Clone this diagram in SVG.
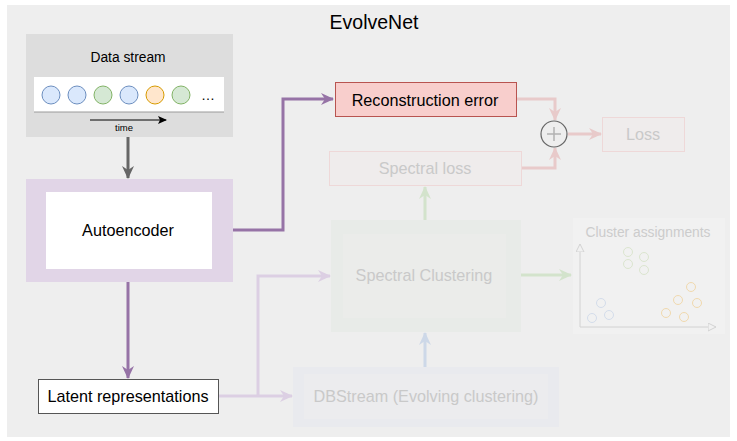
<svg xmlns="http://www.w3.org/2000/svg" width="737" height="441" viewBox="0 0 737 441">
  <defs>
    <style>
      .t { font-family: "Liberation Sans", Arial, Helvetica, sans-serif; text-anchor: middle; dominant-baseline: central; }
      .dark { fill: #000000; }
      .faint { fill: #c9c9c9; }
      .link { fill: none; stroke-width: 3; }
    </style>
    <marker id="ahGray" markerUnits="userSpaceOnUse" markerWidth="14" markerHeight="14" refX="12" refY="7" orient="auto">
      <path d="M0,1 L13,7 L0,13 L4,7 z" fill="#666666"/>
    </marker>
    <marker id="ahPurple" markerUnits="userSpaceOnUse" markerWidth="14" markerHeight="14" refX="12" refY="7" orient="auto">
      <path d="M0,1 L13,7 L0,13 L4,7 z" fill="#9673a6"/>
    </marker>
    <marker id="ahPurpleFaint" markerUnits="userSpaceOnUse" markerWidth="14" markerHeight="14" refX="12" refY="7" orient="auto">
      <path d="M0,1 L13,7 L0,13 L4,7 z" fill="#dccfe3"/>
    </marker>
    <marker id="ahRedFaint" markerUnits="userSpaceOnUse" markerWidth="14" markerHeight="14" refX="12" refY="7" orient="auto">
      <path d="M0,1 L13,7 L0,13 L4,7 z" fill="#e8caca"/>
    </marker>
    <marker id="ahGreenFaint" markerUnits="userSpaceOnUse" markerWidth="14" markerHeight="14" refX="12" refY="7" orient="auto">
      <path d="M0,1 L13,7 L0,13 L4,7 z" fill="#d3e3cc"/>
    </marker>
    <marker id="ahBlueFaint" markerUnits="userSpaceOnUse" markerWidth="14" markerHeight="14" refX="12" refY="7" orient="auto">
      <path d="M0,1 L13,7 L0,13 L4,7 z" fill="#cdd8e8"/>
    </marker>
    <marker id="ahBlack" markerUnits="userSpaceOnUse" markerWidth="10" markerHeight="10" refX="8" refY="4" orient="auto">
      <path d="M0,0 L9,4 L0,8 L2,4 z" fill="#000000"/>
    </marker>
    <marker id="ahOpen" markerUnits="userSpaceOnUse" markerWidth="10" markerHeight="10" refX="8" refY="4" orient="auto">
      <path d="M0,0 L8,4 L0,8 z" fill="#f1f1f1" stroke="#d2d2d2" stroke-width="1"/>
    </marker>
  </defs>

  <!-- outer frame -->
  <rect x="7" y="5" width="723" height="432" fill="#eeeeee"/>
  <text class="t dark" x="374" y="22" font-size="19.5">EvolveNet</text>

  <!-- connectors -->
  <g id="connectors">
    <path class="link" d="M128,137 L128,178" stroke="#666666" marker-end="url(#ahGray)"/>
    <path class="link" d="M233,230 L283,230 L283,99 L333,99" stroke="#9673a6" marker-end="url(#ahPurple)"/>
    <path class="link" d="M128,282 L128,378" stroke="#9673a6" marker-end="url(#ahPurple)"/>
    <path class="link" d="M219,396 L292,396" stroke="#dccfe3" marker-end="url(#ahPurpleFaint)"/>
    <path class="link" d="M258,396 L258,276 L330,276" stroke="#dccfe3" marker-end="url(#ahPurpleFaint)"/>
    <path class="link" d="M425,367 L425,333" stroke="#cdd8e8" marker-end="url(#ahBlueFaint)"/>
    <path class="link" d="M425,220 L425,187" stroke="#d3e3cc" marker-end="url(#ahGreenFaint)"/>
    <path class="link" d="M521,275 L571,275" stroke="#d3e3cc" marker-end="url(#ahGreenFaint)"/>
    <path class="link" d="M517,99 L555,99 L555,120" stroke="#e8caca" marker-end="url(#ahRedFaint)"/>
    <path class="link" d="M522,168 L555,168 L555,148" stroke="#e8caca" marker-end="url(#ahRedFaint)"/>
    <path class="link" d="M568,134 L601,134" stroke="#e8caca" marker-end="url(#ahRedFaint)"/>
  </g>

  <!-- data stream -->
  <g id="data-stream">
    <rect x="26" y="34" width="207" height="103" fill="#dddddd"/>
    <text class="t dark" x="128" y="57" font-size="13.8">Data stream</text>
    <rect x="34" y="77" width="190" height="35" fill="#ffffff"/>
    <line x1="34" y1="112" x2="224" y2="112" stroke="#9a9a9a" stroke-width="1"/>
    <circle cx="51" cy="95" r="9" fill="#dae8fc" stroke="#6c8ebf"/>
    <circle cx="77" cy="95" r="9" fill="#dae8fc" stroke="#6c8ebf"/>
    <circle cx="103" cy="95" r="9" fill="#d5e8d4" stroke="#82b366"/>
    <circle cx="129" cy="95" r="9" fill="#dae8fc" stroke="#6c8ebf"/>
    <circle cx="155" cy="95" r="9" fill="#ffe6cc" stroke="#d79b00"/>
    <circle cx="181" cy="95" r="9" fill="#d5e8d4" stroke="#82b366"/>
    <text class="t dark" x="208" y="95" font-size="14">…</text>
    <line x1="90" y1="120" x2="166" y2="120" stroke="#000000" stroke-width="1" marker-end="url(#ahBlack)"/>
    <text class="t dark" x="124" y="127" font-size="9.5">time</text>
  </g>

  <!-- autoencoder -->
  <g id="autoencoder">
    <rect x="26" y="179" width="207" height="103" fill="#e1d5e7"/>
    <rect x="46" y="192" width="166" height="77" fill="#ffffff"/>
    <text class="t dark" x="128" y="230" font-size="16.2">Autoencoder</text>
  </g>

  <!-- latent representations -->
  <g id="latent">
    <rect x="38.5" y="379.5" width="180" height="34" fill="#ffffff" stroke="#555555"/>
    <text class="t dark" x="128" y="396" font-size="16.2">Latent representations</text>
  </g>

  <!-- reconstruction error -->
  <g id="reconstruction-error">
    <rect x="335.5" y="82.5" width="181" height="34" fill="#f8cecc" stroke="#b85450"/>
    <text class="t dark" x="425" y="100" font-size="16.2">Reconstruction error</text>
  </g>

  <!-- spectral loss -->
  <g id="spectral-loss">
    <rect x="329.5" y="151.5" width="192" height="34" fill="#efecec" stroke="#eed8d8"/>
    <text class="t faint" x="425" y="168" font-size="16.2">Spectral loss</text>
  </g>

  <!-- sum node -->
  <g id="sum">
    <circle cx="554" cy="134" r="13" fill="#eeeeee" stroke="#666666" stroke-width="1.2"/>
    <path d="M547,134 L561,134 M554,127 L554,141" stroke="#b3b3b3" stroke-width="1.5"/>
  </g>

  <!-- loss -->
  <g id="loss">
    <rect x="602.5" y="117.5" width="82" height="34" fill="#efecec" stroke="#eed8d8"/>
    <text class="t faint" x="643" y="134" font-size="16.2">Loss</text>
  </g>

  <!-- spectral clustering -->
  <g id="spectral-clustering">
    <rect x="331" y="220" width="190" height="112" fill="#e8ebe8"/>
    <rect x="343" y="234" width="163" height="84" fill="#ebecea"/>
    <text class="t faint" x="424" y="275" font-size="16.2">Spectral Clustering</text>
  </g>

  <!-- DBStream -->
  <g id="dbstream">
    <rect x="293" y="367" width="266" height="60" fill="#e9eaee"/>
    <rect x="304" y="374" width="244" height="45" fill="#ececee"/>
    <text class="t faint" x="426" y="396" font-size="16.2">DBStream (Evolving clustering)</text>
  </g>

  <!-- cluster assignments -->
  <g id="cluster-assignments">
    <rect x="573" y="218" width="152" height="116" fill="#f1f1f1"/>
    <text class="t" x="648" y="232" font-size="13.8" fill="#cccccc">Cluster assignments</text>
    <line x1="580" y1="327" x2="580" y2="244" stroke="#d2d2d2" marker-end="url(#ahOpen)"/>
    <line x1="580" y1="327" x2="716" y2="327" stroke="#d2d2d2" marker-end="url(#ahOpen)"/>
    <g fill="none" stroke="#dbe5cf" stroke-width="1">
      <circle cx="628" cy="252" r="4.5"/>
      <circle cx="644" cy="257" r="4.5"/>
      <circle cx="628" cy="264" r="4.5"/>
      <circle cx="644" cy="270" r="4.5"/>
    </g>
    <g fill="none" stroke="#f0d9ae" stroke-width="1">
      <circle cx="691" cy="287" r="4.5"/>
      <circle cx="678" cy="300" r="4.5"/>
      <circle cx="697" cy="303" r="4.5"/>
      <circle cx="666" cy="313" r="4.5"/>
      <circle cx="684" cy="317" r="4.5"/>
    </g>
    <g fill="none" stroke="#d4ddeb" stroke-width="1">
      <circle cx="601" cy="303" r="4.5"/>
      <circle cx="592" cy="318" r="4.5"/>
      <circle cx="609" cy="315" r="4.5"/>
    </g>
  </g>
</svg>
